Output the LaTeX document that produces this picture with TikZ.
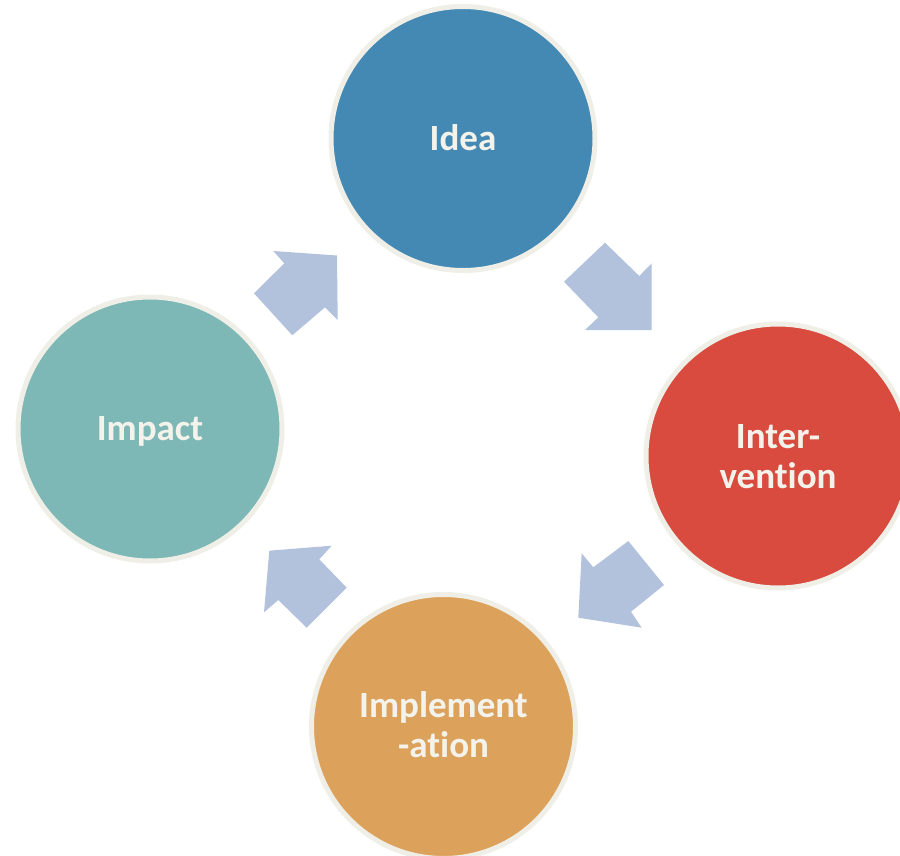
\documentclass[tikz,border=0pt]{standalone}
\usepackage{fontspec}
\setmainfont{Carlito}[Ligatures={NoCommon}]
\definecolor{ideac}{HTML}{4489B4}
\definecolor{intc}{HTML}{D84B3E}
\definecolor{implc}{HTML}{DCA25B}
\definecolor{impc}{HTML}{7EB8B6}
\definecolor{arrowc}{HTML}{B2C2DD}
\definecolor{ringc}{HTML}{EFEFE8}
\definecolor{txtc}{HTML}{F3F3EC}
\begin{document}
\begin{tikzpicture}[x=1pt,y=-1pt,
  stage/.style={circle, draw=ringc, line width=5pt, minimum size=264pt, inner sep=0pt},
  lbl/.style={font=\bfseries\fontsize{37}{40}\selectfont, text=txtc, align=center, anchor=base, inner sep=0pt},
  blockarrow/.style={fill=arrowc, draw=none}]
\useasboundingbox (0,0) rectangle (900,856);
\clip (0,0) rectangle (900,856);
% stages
\node[stage, fill=ideac] (idea) at (463,138.5) {};
\node[stage, fill=intc]  (inter) at (778,456) {};
\node[stage, fill=implc] (impl) at (443.5,726.5) {};
\node[stage, fill=impc]  (impact) at (150,429) {};
% labels
\node[lbl] (ideaT) at ([yshift=-12pt]idea.center) {Idea};
\node[lbl] (impactT) at ([yshift=-11.5pt]impact.center) {Impact};
\node[lbl] (interT) at ([yshift=-32pt]inter.center) {Inter-\\vention};
\node[lbl] (implT) at ([yshift=-30.5pt]impl.center) {Implement\\-ation};
% block arrows
\fill[blockarrow] (254,293.3) -- (284.3,263.3) -- (273.3,251) -- (337,255.5) -- (337.7,320) -- (325,307.3) -- (292.3,335.3) -- cycle;
\fill[blockarrow] (564,281.7) -- (605,242.7) -- (639.3,276) -- (651.7,263.3) -- (651.7,330) -- (585,330) -- (598.3,317.3) -- cycle;
\fill[blockarrow] (628.3,541) -- (664,585) -- (631,611.7) -- (641.7,627.7) -- (578.3,617.7) -- (581.7,553.3) -- (593.3,567.3) -- cycle;
\fill[blockarrow] (346.7,587.7) -- (306.7,627.7) -- (278.3,600) -- (264,612.3) -- (269.3,550.7) -- (331.7,545.7) -- (319.3,559.3) -- cycle;
\end{tikzpicture}
\end{document}
